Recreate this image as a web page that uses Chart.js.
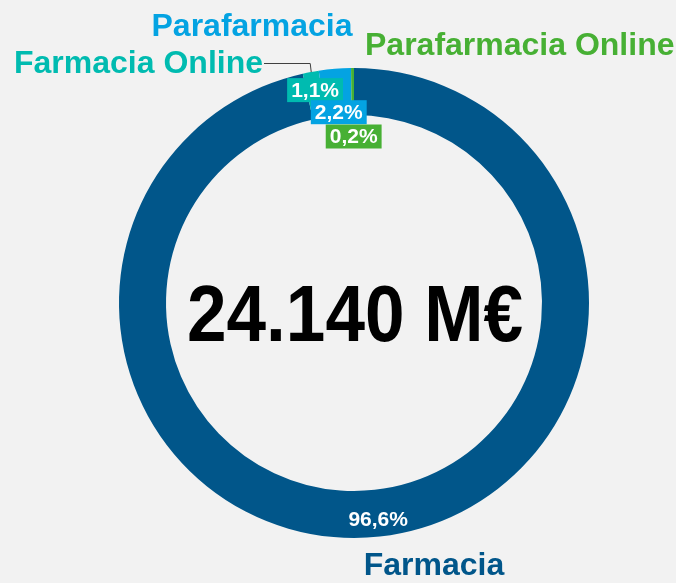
<!DOCTYPE html>
<html>
<head>
<meta charset="utf-8">
<script src="https://cdn.jsdelivr.net/npm/chart.js@4"></script>
<style>
  html, body { margin: 0; padding: 0; background: #f2f2f2; }
  #wrap { width: 676px; height: 583px; }
</style>
</head>
<body>
<div id="wrap"><canvas id="graficoCuota" width="676" height="583"></canvas></div>
<script>
// cuota de mercado por canal
const categorias = ['Farmacia', 'Farmacia Online', 'Parafarmacia', 'Parafarmacia Online'];
const cuotas = [96.6, 1.1, 2.2, 0.2];
const totalTexto = '24.140 M€';

const colores = ['#01568a', '#00bbb0', '#04a3e2', '#47b034'];
const fuente = '"Liberation Sans", Arial, sans-serif';

const fmtPct = v => v.toFixed(1).replace('.', ',') + '%';

const etiquetasPlugin = {
  id: 'etiquetas',
  beforeDraw(chart) {
    const ctx = chart.ctx;
    ctx.save();
    ctx.fillStyle = '#f2f2f2';
    ctx.fillRect(0, 0, chart.width, chart.height);
    ctx.restore();
  },
  afterDatasetsDraw(chart, args, opts) {
    const ctx = chart.ctx;
    const arcs = chart.getDatasetMeta(0).data;
    ctx.save();

    // porcentajes sobre el anillo
    ctx.font = 'bold 21px ' + fuente;
    ctx.textAlign = 'center';
    ctx.textBaseline = 'middle';
    arcs.forEach((arc, i) => {
      const p = arc.getProps(['x', 'y', 'startAngle', 'endAngle', 'innerRadius', 'outerRadius'], true);
      const mid = (p.startAngle + p.endAngle) / 2;
      const r = (p.innerRadius + p.outerRadius) / 2;
      const [dx, dy] = opts.desplaz[i];
      const px = p.x + Math.cos(mid) * r + dx;
      const py = p.y + Math.sin(mid) * r + dy;
      const txt = fmtPct(cuotas[i]);
      if (opts.conCaja[i]) {
        const w = ctx.measureText(txt).width + 8;
        ctx.fillStyle = colores[i];
        ctx.fillRect(px - w / 2, py - 12, w, 24);
      }
      ctx.fillStyle = '#ffffff';
      ctx.fillText(txt, px, py + 1);
    });

    // línea guía de Farmacia Online
    const online = arcs[1].getProps(['x', 'y', 'startAngle', 'endAngle', 'outerRadius'], true);
    const midO = (online.startAngle + online.endAngle) / 2;
    const ox = online.x + Math.cos(midO) * online.outerRadius;
    const oy = online.y + Math.sin(midO) * online.outerRadius;
    ctx.strokeStyle = '#404040';
    ctx.lineWidth = 1;
    ctx.beginPath();
    ctx.moveTo(264, 63.5);
    ctx.lineTo(ox - 0.5, 63.5);
    ctx.lineTo(ox + 0.5, oy);
    ctx.stroke();

    // nombres de categoría
    ctx.font = 'bold 32px ' + fuente;
    ctx.textBaseline = 'alphabetic';
    opts.nombres.forEach((n, i) => {
      ctx.textAlign = n.align;
      ctx.fillStyle = colores[i];
      ctx.fillText(categorias[i], n.x, n.y);
    });

    // total en el centro
    ctx.font = 'bold 80px ' + fuente;
    ctx.textAlign = 'center';
    ctx.fillStyle = '#000000';
    const w = ctx.measureText(totalTexto).width;
    const esc = opts.anchoTotal / w;
    ctx.translate(opts.centroTotal.x, opts.centroTotal.y);
    ctx.scale(esc, 1);
    ctx.fillText(totalTexto, 0, 0);
    ctx.restore();
  }
};

new Chart(document.getElementById('graficoCuota'), {
  type: 'doughnut',
  data: {
    labels: categorias,
    datasets: [{
      data: cuotas,
      backgroundColor: colores,
      borderWidth: 0
    }]
  },
  options: {
    responsive: false,
    animation: false,
    cutout: '80%',
    layout: { padding: { left: 119, right: 87, top: 68, bottom: 45 } },
    plugins: {
      legend: { display: false },
      tooltip: { enabled: false },
      etiquetas: {
        desplaz: [[1, 6], [0, -5], [2, 20], [1, 45]],
        conCaja: [false, true, true, true],
        nombres: [
          { x: 434, y: 575, align: 'center' },
          { x: 263, y: 73, align: 'right' },
          { x: 252, y: 36, align: 'center' },
          { x: 365, y: 55, align: 'left' }
        ],
        centroTotal: { x: 355, y: 341 },
        anchoTotal: 336
      }
    }
  },
  plugins: [etiquetasPlugin]
});
</script>
</body>
</html>
